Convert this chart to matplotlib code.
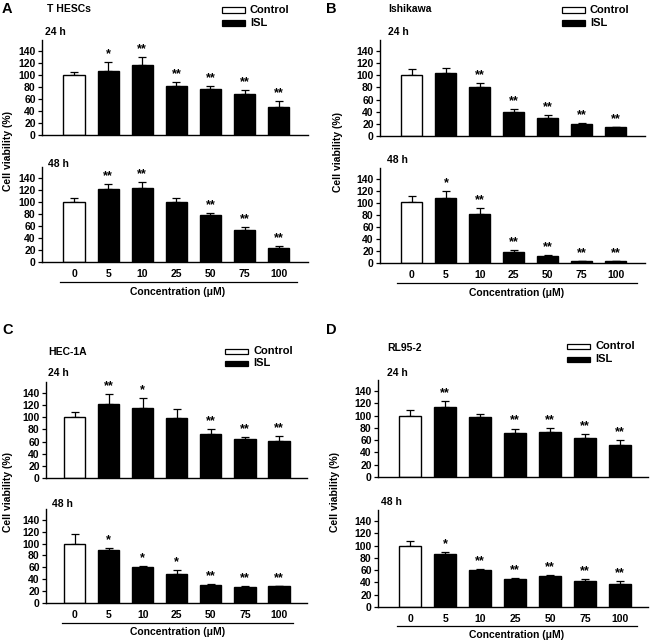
import matplotlib
matplotlib.use("Agg")
import matplotlib.pyplot as plt
from matplotlib.lines import Line2D
from matplotlib.patches import Rectangle

plt.rcParams['font.family'] = ['Liberation Sans', 'DejaVu Sans']
plt.rcParams['font.weight'] = 'bold'

concentrations = ["0", "5", "10", "25", "50", "75", "100"]

# Panel A: T HESCs
a24_vals = [100, 107, 117, 82, 76, 69, 47]
a24_err = [5, 14, 12, 6, 6, 6, 9]
a24_sig = ["", "*", "**", "**", "**", "**", "**"]
a48_vals = [100, 122, 123, 99, 78, 54, 24]
a48_err = [6, 8, 10, 7, 4, 5, 3]
a48_sig = ["", "**", "**", "", "**", "**", "**"]

# Panel B: Ishikawa
b24_vals = [100, 104, 80, 39, 30, 20, 14]
b24_err = [11, 8, 7, 5, 4, 2, 1.5]
b24_sig = ["", "", "**", "**", "**", "**", "**"]
b48_vals = [101, 108, 82, 18, 11, 3, 3]
b48_err = [11, 11, 10, 4, 3, 1, 0.5]
b48_sig = ["", "*", "**", "**", "**", "**", "**"]

# Panel C: HEC-1A
c24_vals = [101, 122, 115, 98, 73, 64, 61]
c24_err = [7, 17, 16, 15, 7, 4, 8]
c24_sig = ["", "**", "*", "", "**", "**", "**"]
c48_vals = [100, 89, 60, 49, 30, 27, 28]
c48_err = [16, 4, 3, 6, 2, 1, 1]
c48_sig = ["", "*", "*", "*", "**", "**", "**"]

# Panel D: RL95-2
d24_vals = [100, 114, 97, 71, 73, 63, 52]
d24_err = [9, 10, 5, 8, 7, 7, 8]
d24_sig = ["", "**", "", "**", "**", "**", "**"]
d48_vals = [100, 86, 60, 46, 50, 43, 38]
d48_err = [8, 3, 2, 2, 2, 2, 4]
d48_sig = ["", "*", "**", "**", "**", "**", "**"]

yticks = [0, 20, 40, 60, 80, 100, 120, 140]

W, H = 650, 641
fig = plt.figure(figsize=(6.5, 6.41), dpi=100)


def fx(x):
    return x / W


def fy(y):
    return 1 - y / H


def make_axes(l, r, t, b, vals, errs, sigs, bottom_labels, xl=(-0.94, 6.86)):
    ax = fig.add_axes([fx(l), fy(b), (r - l) / W, (b - t) / H])
    x = list(range(len(vals)))
    colors = ["white"] + ["black"] * (len(vals) - 1)
    ax.bar(x, vals, width=0.62, color=colors, edgecolor="black", linewidth=1.0, zorder=2)
    ax.errorbar(x, vals, yerr=[[0] * len(errs), errs], fmt="none", ecolor="black",
                elinewidth=0.9, capsize=3, capthick=0.9, zorder=1)
    for xi, v, e, s in zip(x, vals, errs, sigs):
        if s:
            ax.text(xi, v + e + 3, s, ha="center", va="bottom", fontsize=9, fontweight="bold")
    ax.set_ylim(0, 158)
    ax.set_xlim(*xl)
    ax.set_yticks(yticks)
    ax.set_yticklabels([str(t) for t in yticks], fontsize=7.5, fontweight="bold")
    ax.spines["top"].set_visible(False)
    ax.spines["right"].set_visible(False)
    ax.spines["left"].set_linewidth(1.0)
    ax.spines["bottom"].set_linewidth(1.0)
    ax.tick_params(axis="y", direction="out", length=3, width=0.9, pad=1.5)
    if bottom_labels:
        ax.set_xticks(x)
        ax.set_xticklabels(concentrations, fontsize=7.5, fontweight="bold")
        ax.tick_params(axis="x", length=0, pad=5)
    else:
        ax.set_xticks([])
    return ax


def legend(px, py, dy=13):
    for i, (lab, fc) in enumerate([("Control", "white"), ("ISL", "black")]):
        y = py + i * dy
        fig.patches.append(Rectangle((fx(px), fy(y + 2.5)), 23 / W, 5 / H, transform=fig.transFigure,
                                     facecolor=fc, edgecolor="black", linewidth=0.9))
        fig.text(fx(px + 28), fy(y), lab, fontsize=8, fontweight="bold", va="center", ha="left")


def hline(x1, x2, y):
    fig.lines.append(Line2D([fx(x1), fx(x2)], [fy(y), fy(y)], transform=fig.transFigure,
                            color="black", linewidth=0.9))


def txt(x, y, s, size=7.5, **kw):
    fig.text(fx(x), fy(y), s, fontsize=size, fontweight="bold", va="center", ha="left", **kw)


# Panel A
make_axes(42, 308, 40, 135, a24_vals, a24_err, a24_sig, False)
make_axes(42, 308, 167, 262, a48_vals, a48_err, a48_sig, True)
txt(2, 9, "A", size=10.5)
txt(47, 9, "T HESCs")
txt(45, 32, "24 h")
txt(48, 164, "48 h")
legend(222, 10)
hline(60, 297, 282)
fig.text(fx(178), fy(292), "Concentration (\u03bcM)", fontsize=7.5, fontweight="bold", ha="center", va="center")
fig.text(fx(8), fy(151), "Cell viability (%)", fontsize=7.5, fontweight="bold", ha="center", va="center", rotation=90)

# Panel B
make_axes(380, 645, 40, 136, b24_vals, b24_err, b24_sig, False)
make_axes(380, 645, 168, 263, b48_vals, b48_err, b48_sig, True)
txt(326, 9, "B", size=10.5)
txt(388, 9, "Ishikawa")
txt(388, 32, "24 h")
txt(387, 160, "48 h")
legend(562, 10)
hline(397, 637, 283)
fig.text(fx(517), fy(293), "Concentration (\u03bcM)", fontsize=7.5, fontweight="bold", ha="center", va="center")
fig.text(fx(338), fy(152), "Cell viability (%)", fontsize=7.5, fontweight="bold", ha="center", va="center", rotation=90)

# Panel C
make_axes(46, 307, 382, 478, c24_vals, c24_err, c24_sig, False, xl=(-0.84, 6.82))
make_axes(46, 307, 509, 603, c48_vals, c48_err, c48_sig, True, xl=(-0.84, 6.82))
txt(2, 330, "C", size=10.5)
txt(48, 352, "HEC-1A")
txt(48, 373, "24 h")
txt(52, 504, "48 h")
legend(225, 351, dy=12)
hline(62, 293, 623)
fig.text(fx(178), fy(632), "Concentration (\u03bcM)", fontsize=7.5, fontweight="bold", ha="center", va="center")
fig.text(fx(8), fy(492), "Cell viability (%)", fontsize=7.5, fontweight="bold", ha="center", va="center", rotation=90)

# Panel D
make_axes(378, 648, 380, 477, d24_vals, d24_err, d24_sig, False, xl=(-0.92, 6.8))
make_axes(378, 648, 510, 607, d48_vals, d48_err, d48_sig, True, xl=(-0.92, 6.8))
txt(326, 330, "D", size=10.5)
txt(387, 348, "RL95-2")
txt(387, 373, "24 h")
txt(381, 502, "48 h")
legend(567, 346)
hline(397, 637, 626)
fig.text(fx(517), fy(635), "Concentration (\u03bcM)", fontsize=7.5, fontweight="bold", ha="center", va="center")
fig.text(fx(335), fy(492), "Cell viability (%)", fontsize=7.5, fontweight="bold", ha="center", va="center", rotation=90)

fig.savefig("out.png", dpi=100)
